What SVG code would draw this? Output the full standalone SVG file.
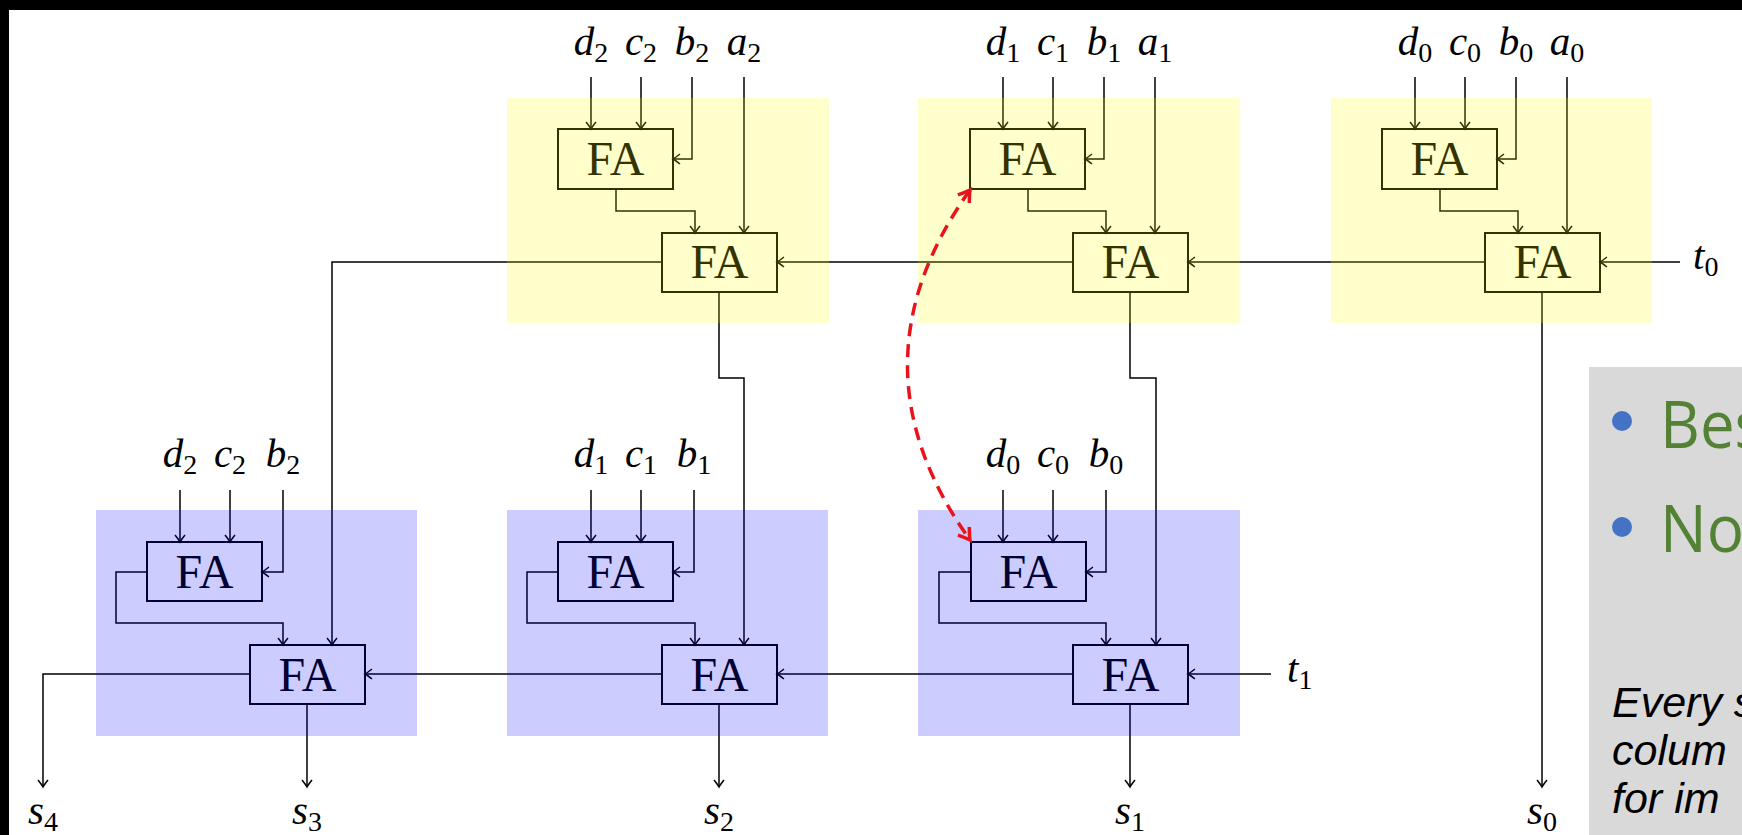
<svg xmlns="http://www.w3.org/2000/svg" width="1742" height="835" viewBox="0 0 1742 835">
<defs>
<style>
.ln{fill:none;stroke:#000;stroke-width:1.5}
.ar{marker-end:url(#ah)}
.box{fill:none;stroke:#000;stroke-width:2}
.fat{font-family:"Liberation Serif","Times New Roman",serif;font-size:48px;text-anchor:middle;fill:#000}
.m{font-family:"Liberation Serif","Times New Roman",serif;font-style:italic;font-size:41px;text-anchor:middle;fill:#000}
.ms{font-family:"Liberation Serif","Times New Roman",serif;font-style:italic;font-size:41px;fill:#000}
.sub{font-style:normal;font-size:28px}
.yel{fill:#ffff00;fill-opacity:0.2}
.blu{fill:#0000ff;fill-opacity:0.2}
.red{fill:none;stroke:#e8141c;stroke-width:3.5;stroke-dasharray:13 8;marker-start:url(#rh);marker-end:url(#rh)}
.big{font-family:"Open Sans","Liberation Sans",sans-serif;font-size:66px;fill:#548235}
.it{font-family:"Liberation Sans",Arial,sans-serif;font-style:italic;font-size:43px;fill:#000}
</style>
<marker id="ah" markerUnits="userSpaceOnUse" viewBox="-9 -7 11 14" refX="0" refY="0" markerWidth="11" markerHeight="14" orient="auto" overflow="visible">
<path d="M-7,-5 Q-2,-1 0,0 Q-2,1 -7,5" fill="none" stroke="#000" stroke-width="1.5"/>
</marker>
<marker id="rh" markerUnits="userSpaceOnUse" viewBox="-14 -10 16 20" refX="0" refY="0" markerWidth="16" markerHeight="20" orient="auto-start-reverse" overflow="visible">
<path d="M-11,-7 Q-3,-1.5 0,0 Q-3,1.5 -11,7" fill="none" stroke="#e8141c" stroke-width="3.5"/>
</marker>
</defs>

<rect x="0" y="0" width="1742" height="835" fill="#fff"/>

<g id="connectors">
<path class="ln ar" d="M591,77 V129"/>
<path class="ln ar" d="M641,77 V129"/>
<path class="ln ar" d="M692,77 V159 H673"/>
<path class="ln ar" d="M744,77 V233"/>
<path class="ln ar" d="M616,189 V211 H695 V233"/>
<path class="ln ar" d="M1003,77 V129"/>
<path class="ln ar" d="M1053,77 V129"/>
<path class="ln ar" d="M1104,77 V159 H1085"/>
<path class="ln ar" d="M1155,77 V233"/>
<path class="ln ar" d="M1028,189 V211 H1106 V233"/>
<path class="ln ar" d="M1415,77 V129"/>
<path class="ln ar" d="M1465,77 V129"/>
<path class="ln ar" d="M1516,77 V159 H1497"/>
<path class="ln ar" d="M1567,77 V233"/>
<path class="ln ar" d="M1440,189 V211 H1518 V233"/>
<path class="ln ar" d="M1680,262 H1600"/>
<path class="ln ar" d="M1485,262 H1188"/>
<path class="ln ar" d="M1073,262 H777"/>
<path class="ln ar" d="M662,262 H332 V645"/>
<path class="ln ar" d="M719,292 V378 H744 V645"/>
<path class="ln ar" d="M1130,292 V378 H1156 V645"/>
<path class="ln ar" d="M1542,292 V787"/>
<path class="ln ar" d="M180,490 V542"/>
<path class="ln ar" d="M230,490 V542"/>
<path class="ln ar" d="M283,490 V572 H262"/>
<path class="ln ar" d="M147,572 H116 V623 H283 V645"/>
<path class="ln ar" d="M591,490 V542"/>
<path class="ln ar" d="M641,490 V542"/>
<path class="ln ar" d="M694,490 V572 H673"/>
<path class="ln ar" d="M558,572 H527 V623 H695 V645"/>
<path class="ln ar" d="M1003,490 V542"/>
<path class="ln ar" d="M1053,490 V542"/>
<path class="ln ar" d="M1106,490 V572 H1086"/>
<path class="ln ar" d="M971,572 H939 V623 H1106 V645"/>
<path class="ln ar" d="M1271,674 H1188"/>
<path class="ln ar" d="M1073,674 H777"/>
<path class="ln ar" d="M662,674 H365"/>
<path class="ln ar" d="M250,674 H43 V787"/>
<path class="ln ar" d="M307,704 V787"/>
<path class="ln ar" d="M719,704 V787"/>
<path class="ln ar" d="M1130,704 V787"/>
</g>

<g id="fa-top-a1"><rect class="box" x="558" y="129" width="115" height="60"/><text class="fat" x="615.5" y="175">FA</text></g>
<g id="fa-top-a2"><rect class="box" x="662" y="233" width="115" height="59"/><text class="fat" x="719.5" y="278">FA</text></g>
<g id="fa-top-b1"><rect class="box" x="970" y="129" width="115" height="60"/><text class="fat" x="1027.5" y="175">FA</text></g>
<g id="fa-top-b2"><rect class="box" x="1073" y="233" width="115" height="59"/><text class="fat" x="1130.5" y="278">FA</text></g>
<g id="fa-top-c1"><rect class="box" x="1382" y="129" width="115" height="60"/><text class="fat" x="1439.5" y="175">FA</text></g>
<g id="fa-top-c2"><rect class="box" x="1485" y="233" width="115" height="59"/><text class="fat" x="1542.5" y="278">FA</text></g>
<g id="fa-bot-a1"><rect class="box" x="147" y="542" width="115" height="59"/><text class="fat" x="204.5" y="588">FA</text></g>
<g id="fa-bot-a2"><rect class="box" x="250" y="645" width="115" height="59"/><text class="fat" x="307.5" y="691">FA</text></g>
<g id="fa-bot-b1"><rect class="box" x="558" y="542" width="115" height="59"/><text class="fat" x="615.5" y="588">FA</text></g>
<g id="fa-bot-b2"><rect class="box" x="662" y="645" width="115" height="59"/><text class="fat" x="719.5" y="691">FA</text></g>
<g id="fa-bot-c1"><rect class="box" x="971" y="542" width="115" height="59"/><text class="fat" x="1028.5" y="588">FA</text></g>
<g id="fa-bot-c2"><rect class="box" x="1073" y="645" width="115" height="59"/><text class="fat" x="1130.5" y="691">FA</text></g>

<g id="stage-shading">
<rect class="yel" x="507" y="98" width="322" height="225"/>
<rect class="yel" x="918" y="98" width="322" height="225"/>
<rect class="yel" x="1331" y="98" width="321" height="225"/>
<rect class="blu" x="96" y="510" width="321" height="226"/>
<rect class="blu" x="507" y="510" width="321" height="226"/>
<rect class="blu" x="918" y="510" width="322" height="226"/>
</g>

<g id="labels">
<text class="m" x="591" y="55">d<tspan class="sub" dy="7">2</tspan></text>
<text class="m" x="641" y="55">c<tspan class="sub" dy="7">2</tspan></text>
<text class="m" x="692" y="55">b<tspan class="sub" dy="7">2</tspan></text>
<text class="m" x="744" y="55">a<tspan class="sub" dy="7">2</tspan></text>
<text class="m" x="1003" y="55">d<tspan class="sub" dy="7">1</tspan></text>
<text class="m" x="1053" y="55">c<tspan class="sub" dy="7">1</tspan></text>
<text class="m" x="1104" y="55">b<tspan class="sub" dy="7">1</tspan></text>
<text class="m" x="1155" y="55">a<tspan class="sub" dy="7">1</tspan></text>
<text class="m" x="1415" y="55">d<tspan class="sub" dy="7">0</tspan></text>
<text class="m" x="1465" y="55">c<tspan class="sub" dy="7">0</tspan></text>
<text class="m" x="1516" y="55">b<tspan class="sub" dy="7">0</tspan></text>
<text class="m" x="1567" y="55">a<tspan class="sub" dy="7">0</tspan></text>
<text class="m" x="180" y="467">d<tspan class="sub" dy="7">2</tspan></text>
<text class="m" x="230" y="467">c<tspan class="sub" dy="7">2</tspan></text>
<text class="m" x="283" y="467">b<tspan class="sub" dy="7">2</tspan></text>
<text class="m" x="591" y="467">d<tspan class="sub" dy="7">1</tspan></text>
<text class="m" x="641" y="467">c<tspan class="sub" dy="7">1</tspan></text>
<text class="m" x="694" y="467">b<tspan class="sub" dy="7">1</tspan></text>
<text class="m" x="1003" y="467">d<tspan class="sub" dy="7">0</tspan></text>
<text class="m" x="1053" y="467">c<tspan class="sub" dy="7">0</tspan></text>
<text class="m" x="1106" y="467">b<tspan class="sub" dy="7">0</tspan></text>
<text class="ms" x="1693" y="269">t<tspan class="sub" dy="7">0</tspan></text>
<text class="ms" x="1287" y="682">t<tspan class="sub" dy="7">1</tspan></text>
<text class="m" x="43" y="824">s<tspan class="sub" dy="7">4</tspan></text>
<text class="m" x="307" y="824">s<tspan class="sub" dy="7">3</tspan></text>
<text class="m" x="719" y="824">s<tspan class="sub" dy="7">2</tspan></text>
<text class="m" x="1130" y="824">s<tspan class="sub" dy="7">1</tspan></text>
<text class="m" x="1542" y="824">s<tspan class="sub" dy="7">0</tspan></text>
</g>

<g id="dependency">
<path class="red" d="M970,190 Q845,365 970,540"/>
</g>

<g id="textbox">
<rect x="1589" y="367" width="153" height="468" fill="#d9d9d9"/>
<circle cx="1622" cy="421" r="10" fill="#4472c4"/>
<circle cx="1622" cy="527" r="10" fill="#4472c4"/>
<text class="big" x="1660" y="448" textLength="104" lengthAdjust="spacingAndGlyphs">Bes</text>
<text class="big" x="1660" y="552" textLength="84" lengthAdjust="spacingAndGlyphs">No</text>
<text class="it" x="1612" y="717">Every s</text>
<text class="it" x="1612" y="765">colum</text>
<text class="it" x="1612" y="813">for im</text>
</g>

<g id="frame">
<rect x="0" y="0" width="1742" height="10" fill="#000"/>
<rect x="0" y="0" width="9" height="835" fill="#000"/>
</g>
</svg>
